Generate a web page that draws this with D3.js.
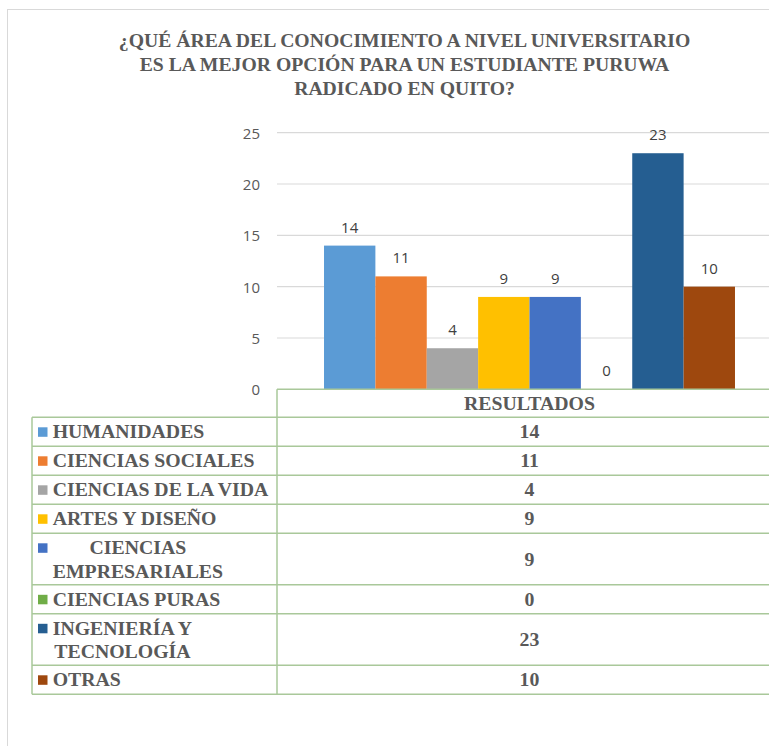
<!DOCTYPE html>
<html><head><meta charset="utf-8">
<script src="https://cdn.jsdelivr.net/npm/d3@7"></script>
<style>
html,body{margin:0;padding:0;background:#fff;}svg{display:block;}
.serif{font-family:"Liberation Serif","Times New Roman",Tinos,"DejaVu Serif",serif;font-weight:bold;}
.sans{font-family:"Open Sans","Liberation Sans",sans-serif;}
</style>
</head><body>
<svg id="chart" width="769" height="746"></svg>
<script>
const titleLines = ["¿QUÉ ÁREA DEL CONOCIMIENTO A NIVEL UNIVERSITARIO", "ES LA MEJOR OPCIÓN PARA UN ESTUDIANTE PURUWA", "RADICADO EN QUITO?"];
const categories = ["HUMANIDADES", "CIENCIAS SOCIALES", "CIENCIAS DE LA VIDA", "ARTES Y DISEÑO", "CIENCIAS EMPRESARIALES", "CIENCIAS PURAS", "INGENIERÍA Y TECNOLOGÍA", "OTRAS"];
const categoryLines = [["HUMANIDADES"], ["CIENCIAS SOCIALES"], ["CIENCIAS DE LA VIDA"], ["ARTES Y DISEÑO"], ["CIENCIAS", "EMPRESARIALES"], ["CIENCIAS PURAS"], ["INGENIERÍA Y", "TECNOLOGÍA"], ["OTRAS"]];
const values = [14, 11, 4, 9, 9, 0, 23, 10];
const colors = ["#5B9BD5", "#ED7D31", "#A5A5A5", "#FFC000", "#4472C4", "#70AD47", "#255E91", "#9E480E"];
const seriesName = "RESULTADOS";
const yTicks = [0, 5, 10, 15, 20, 25];

const svg = d3.select("#chart");
const textGray = "#595959";
const tableColor = "#a9c89a";

// outer frame
svg.append("rect").attr("x", 7.5).attr("y", 9.5).attr("width", 820).attr("height", 800)
  .attr("fill", "#fff").attr("stroke", "#d9d9d9").attr("stroke-width", 1);

// title
svg.append("text").attr("class", "serif").attr("x", 404.5).attr("y", 46.5).attr("text-anchor", "middle")
  .style("font-size", "19.7px").attr("fill", textGray)
  .selectAll("tspan").data(titleLines).join("tspan")
  .attr("x", 404.5).attr("dy", (d, i) => i === 0 ? 0 : 24.3).text(d => d);

// scales
const y = d3.scaleLinear().domain([0, 25]).range([389.3, 132.7]);
const xGroup = d3.scaleBand().domain([seriesName]).range([277, 782]).paddingInner(0).paddingOuter(0.1144);
const xInner = d3.scaleBand().domain(categories).range([0, xGroup.bandwidth()]);

// gridlines
svg.append("g").selectAll("line").data(yTicks.filter(t => t > 0)).join("line")
  .attr("x1", 277).attr("x2", 782).attr("y1", d => y(d)).attr("y2", d => y(d))
  .attr("stroke", "#d9d9d9").attr("stroke-width", 1.2);

// y axis labels
const yAxis = d3.axisLeft(y).tickValues(yTicks).tickSize(0).tickPadding(0);
const gy = svg.append("g").attr("transform", "translate(260,0)").call(yAxis);
gy.select(".domain").remove();
gy.attr("font-family", null).attr("font-size", null);
gy.selectAll("text").attr("class", "sans").style("font-size", "15px").attr("fill", textGray).attr("dy", "0.36em");

// bars
const gBars = svg.append("g").attr("transform", `translate(${xGroup(seriesName)},0)`);
gBars.selectAll("rect").data(values).join("rect")
  .attr("x", (d, i) => xInner(categories[i]))
  .attr("width", xInner.bandwidth())
  .attr("y", d => y(d))
  .attr("height", d => y(0) - y(d))
  .attr("fill", (d, i) => colors[i]);

// data labels
gBars.selectAll("text").data(values).join("text").attr("class", "sans")
  .attr("x", (d, i) => xInner(categories[i]) + xInner.bandwidth() / 2)
  .attr("y", d => y(d) - 13)
  .attr("text-anchor", "middle").style("font-size", "15px").attr("fill", "#404040")
  .text(d => d);

// data table
const tableTop = y(0);
const headerH = 28;
const lineH = 22.5;
const rowH = n => 29 + (n - 1) * lineH;
const rowTops = [];
let acc = tableTop + headerH;
categoryLines.forEach(l => { rowTops.push(acc); acc += rowH(l.length); });
const tableBottom = acc;
const leftX = 32, divX = 277, rightX = 782;
const cx = xGroup(seriesName) + xGroup.bandwidth() / 2;

const gT = svg.append("g");
gT.append("line").attr("x1", divX).attr("x2", rightX).attr("y1", tableTop).attr("y2", tableTop)
  .attr("stroke", tableColor).attr("stroke-width", 1.5);
const hLines = rowTops.concat([tableBottom]);
gT.selectAll("line.h").data(hLines).join("line").attr("class", "h")
  .attr("x1", leftX).attr("x2", rightX).attr("y1", d => d).attr("y2", d => d)
  .attr("stroke", tableColor).attr("stroke-width", 1.5);
gT.append("line").attr("x1", leftX).attr("x2", leftX).attr("y1", rowTops[0]).attr("y2", tableBottom)
  .attr("stroke", tableColor).attr("stroke-width", 1.5);
gT.append("line").attr("x1", divX).attr("x2", divX).attr("y1", tableTop).attr("y2", tableBottom)
  .attr("stroke", tableColor).attr("stroke-width", 1.5);

gT.append("text").attr("class", "serif").attr("x", cx).attr("y", tableTop + headerH / 2 + 6.5).attr("text-anchor", "middle")
  .style("font-size", "19.8px").attr("fill", textGray)
  .text(seriesName);

categoryLines.forEach((lines, i) => {
  const top = rowTops[i];
  const h = rowH(lines.length);
  const firstBase = top + 29 / 2 + 6.5;
  gT.append("rect").attr("x", 38).attr("y", firstBase - 11).attr("width", 9.5).attr("height", 9.5)
    .attr("fill", colors[i]);
  const tg = gT.append("g");
  const texts = tg.selectAll("text").data(lines).join("text").attr("class", "serif")
    .attr("y", (d, j) => firstBase + j * 23.5)
    .style("font-size", "19.8px").attr("fill", textGray)
    .text(d => d);
  if (lines.length > 1) {
    let maxW = 0;
    texts.each(function () { maxW = Math.max(maxW, this.getComputedTextLength()); });
    texts.attr("x", 52.7 + maxW / 2).attr("text-anchor", "middle");
  } else {
    texts.attr("x", 52.7);
  }
  gT.append("text").attr("class", "serif").attr("x", cx).attr("y", top + h / 2 + 6.5).attr("text-anchor", "middle")
    .style("font-size", "19.8px").attr("fill", textGray)
    .text(values[i]);
});
</script>
</body></html>
